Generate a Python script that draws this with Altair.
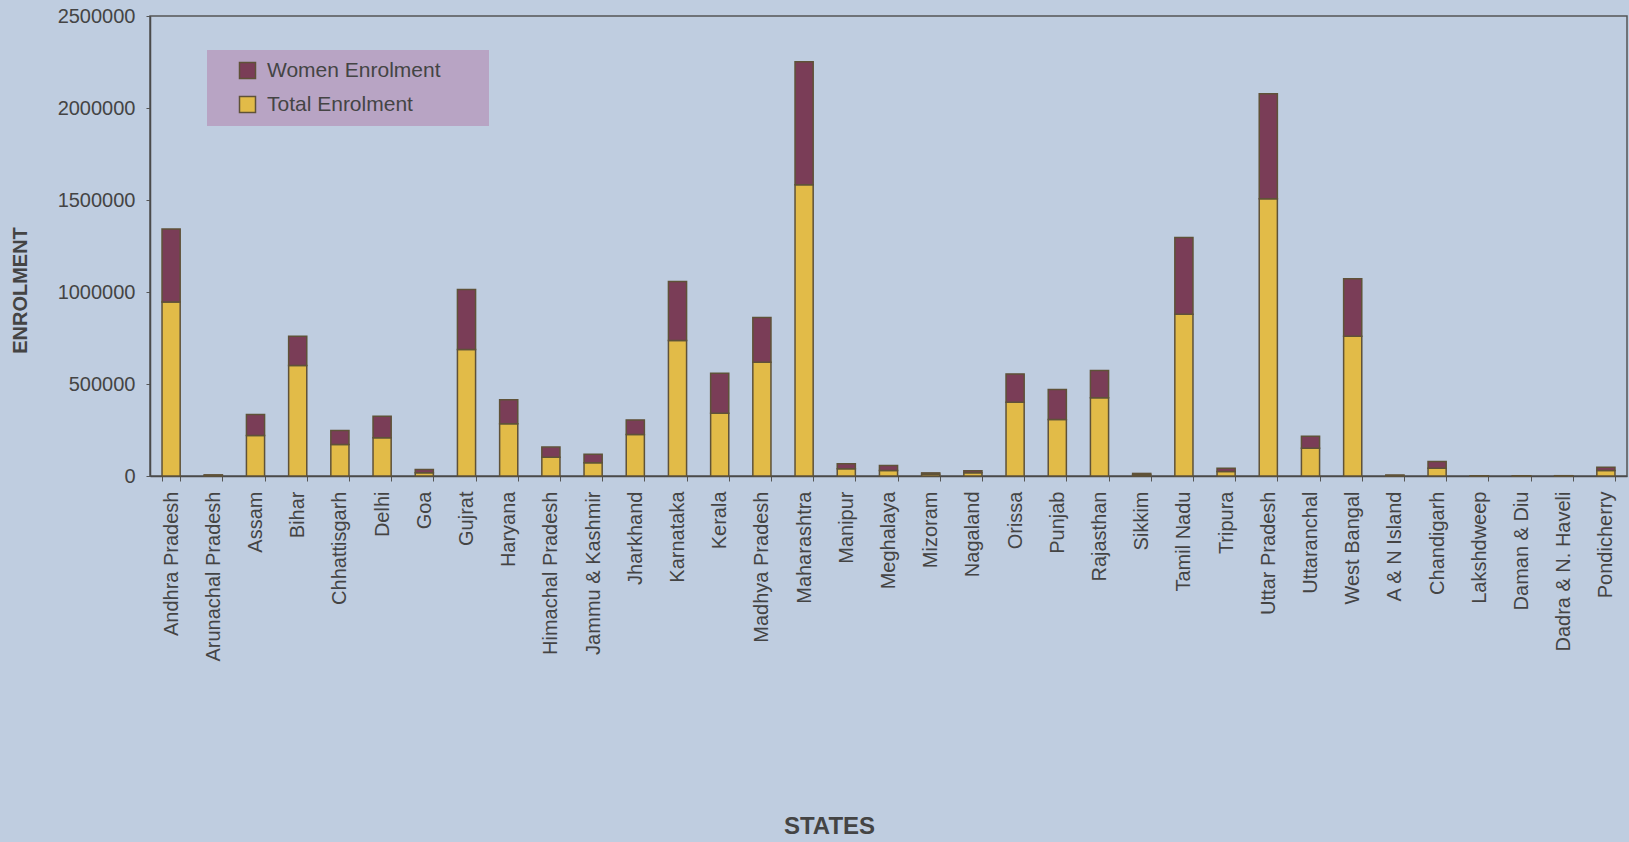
import altair as alt
import pandas as pd

states = [
    "Andhra Pradesh", "Arunachal Pradesh", "Assam", "Bihar", "Chhattisgarh",
    "Delhi", "Goa", "Gujrat", "Haryana", "Himachal Pradesh",
    "Jammu & Kashmir", "Jharkhand", "Karnataka", "Kerala", "Madhya Pradesh",
    "Maharashtra", "Manipur", "Meghalaya", "Mizoram", "Nagaland",
    "Orissa", "Punjab", "Rajasthan", "Sikkim", "Tamil Nadu",
    "Tripura", "Uttar Pradesh", "Uttaranchal", "West Bangal", "A & N  Island",
    "Chandigarh", "Lakshdweep", "Daman & Diu", "Dadra & N. Haveli", "Pondicherry",
]
total_enrolment = [
    945000, 4000, 220000, 600000, 171000,
    208000, 17000, 688000, 284000, 102000,
    72000, 226000, 736000, 341000, 618000,
    1583000, 39000, 30000, 10000, 17000,
    401000, 307000, 425000, 8000, 879000,
    25000, 1507000, 151000, 760000, 3000,
    42000, 500, 1000, 1000, 30000,
]
women_enrolment = [
    398000, 2000, 114000, 160000, 76000,
    117000, 18000, 326000, 130000, 55000,
    46000, 79000, 321000, 218000, 243000,
    668000, 27000, 27000, 7000, 12000,
    154000, 163000, 148000, 6000, 417000,
    17000, 570000, 65000, 312000, 2000,
    37000, 300, 500, 600, 18000,
]
series_names = ["Women Enrolment", "Total Enrolment"]
series_colors = ["#7a3d57", "#e2bb48"]
y_ticks = [0, 500000, 1000000, 1500000, 2000000, 2500000]

rows = []
for s, t, w in zip(states, total_enrolment, women_enrolment):
    rows.append({"State": s, "Series": "Total Enrolment", "Value": t, "Order": 0})
    rows.append({"State": s, "Series": "Women Enrolment", "Value": w, "Order": 1})
df = pd.DataFrame(rows)

FONT = "Liberation Sans"
TEXT = "#444444"
# blank padding after the legend labels so the legend box is as wide as the original
LABEL_PAD = "\u00a0" * 4 + "\u2800"

chart = (
    alt.Chart(df)
    .mark_bar(stroke="#5f5238", strokeWidth=1.5)
    .encode(
        x=alt.X(
            "State:N",
            sort=states,
            scale=alt.Scale(paddingInner=0.57, paddingOuter=0.285),
            axis=alt.Axis(
                title="STATES",
                labelAngle=-90,
                labelAlign="right",
                labelBaseline="middle",
                labelFontSize=20,
                labelPadding=10,
                labelLimit=300,
                tickBand="extent",
                tickSize=5,
                titleFontSize=24,
                titleFontWeight="bold",
                titleX=679,
                titleY=350,
                titleAlign="center",
                titleBaseline="middle",
                titleAngle=0,
            ),
        ),
        y=alt.Y(
            "Value:Q",
            stack="zero",
            scale=alt.Scale(domain=[0, 2500000], nice=False),
            axis=alt.Axis(
                values=y_ticks,
                format="d",
                title="ENROLMENT",
                grid=False,
                labelFontSize=20,
                labelPadding=11,
                tickSize=4,
                titleFontSize=20,
                titleFontWeight="bold",
                titleX=-130,
                titleY=274,
                titleAngle=270,
                titleAlign="center",
                titleBaseline="middle",
            ),
        ),
        color=alt.Color(
            "Series:N",
            scale=alt.Scale(domain=series_names, range=series_colors),
            legend=alt.Legend(
                title=None,
                orient="none",
                legendX=57,
                legendY=34,
                fillColor="#b8a4c4",
                padding=10,
                symbolType="square",
                symbolSize=256,
                symbolOffset=20,
                labelFontSize=21,
                labelOffset=9,
                labelLimit=500,
                labelColor=TEXT,
                labelFont=FONT,
                rowPadding=11,
                labelExpr="datum.label + '" + LABEL_PAD + "'",
            ),
        ),
        order=alt.Order("Order:Q", sort="ascending"),
    )
    .properties(
        width=1477,
        height=460,
        autosize=alt.AutoSizeParams(type="none"),
        padding={"left": 150, "top": 16, "right": 2, "bottom": 366},
        background="#bfcde0",
    )
    .configure_view(stroke="#555555", strokeWidth=1.5)
    .configure_axis(
        domainColor="#4a4a4a",
        domainWidth=1.5,
        tickColor="#555555",
        labelColor=TEXT,
        titleColor=TEXT,
        labelFont=FONT,
        titleFont=FONT,
    )
)

chart.save("out.html", embed_options={"renderer": "svg", "actions": False})
